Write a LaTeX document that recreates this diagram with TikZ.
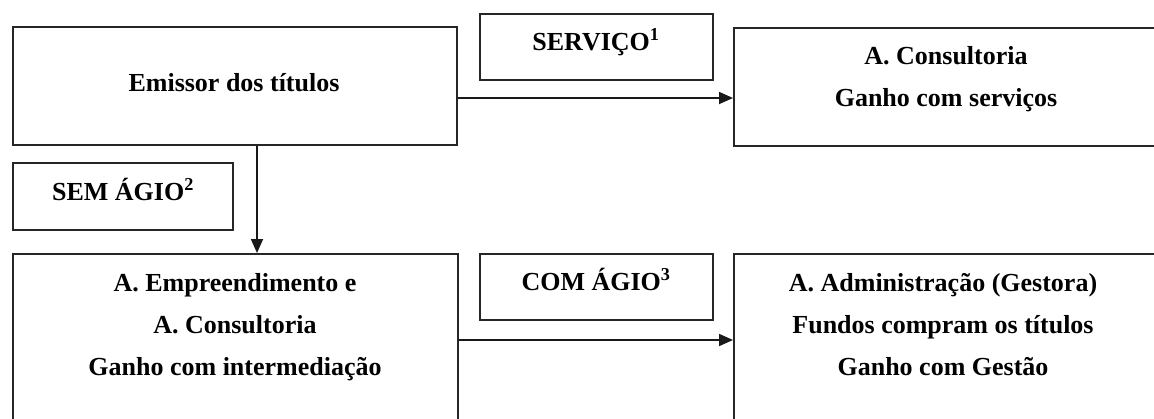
\documentclass[tikz,border=0pt]{standalone}
\usepackage{fontspec}
\setmainfont{Liberation Serif}
\usetikzlibrary{arrows.meta}
\begin{document}
\begin{tikzpicture}[x=1pt,y=-1pt,
  box/.style={draw=black!85, line width=2pt, inner sep=0pt, anchor=north west},
  txt/.style={inner sep=0pt, anchor=base, font=\fontsize{26}{42}\selectfont\bfseries},
  arr/.style={draw=black!90, line width=1.8pt, -{Triangle[length=14pt,width=12pt]}}]
\useasboundingbox (0,0) rectangle (1154,418);
\clip (0,0) rectangle (1154,418);
\fill[white] (0,0) rectangle (1154,418);
% boxes
\node[box, minimum width=444pt, minimum height=118pt] (emissor) at (12,26) {};
\node[box, minimum width=427pt, minimum height=118pt] (consult) at (733,27) {};
\node[box, minimum width=233pt, minimum height=66pt] (servico) at (479,13) {};
\node[box, minimum width=220pt, minimum height=67pt] (semagio) at (12,162) {};
\node[box, minimum width=445pt, minimum height=172pt] (empre) at (12,253) {};
\node[box, minimum width=233pt, minimum height=66pt] (comagio) at (479,253) {};
\node[box, minimum width=427pt, minimum height=172pt] (gestora) at (733,253) {};
% texts
\node[txt] (t1) at (234,91) {Emissor dos títulos};
\node[txt] (t2) at (946,64) {A. Consultoria};
\node[txt] (t3) at (946,106) {Ganho com serviços};
\node[txt] (t4) at (596,50) {SERVIÇO\textsuperscript{1}};
\node[txt] (t5) at (123,200) {SEM ÁGIO\textsuperscript{2}};
\node[txt] (t6) at (596,290) {COM ÁGIO\textsuperscript{3}};
\node[txt] (t7) at (235,291) {A. Empreendimento e};
\node[txt] (t8) at (235,333) {A. Consultoria};
\node[txt] (t9) at (235,375) {Ganho com intermediação};
\node[txt] (t10) at (943,291) {A. Administração (Gestora)};
\node[txt] (t11) at (943,333) {Fundos compram os títulos};
\node[txt] (t12) at (943,375) {Ganho com Gestão};
% connectors
\draw[arr] ([yshift=-12pt]emissor.east) -- ([yshift=-11pt]consult.west);
\draw[arr] ([xshift=22pt]emissor.south) -- ([xshift=22pt]emissor.south |- empre.north);
\draw[arr] (empre.east) -- (gestora.west);
\end{tikzpicture}
\end{document}
